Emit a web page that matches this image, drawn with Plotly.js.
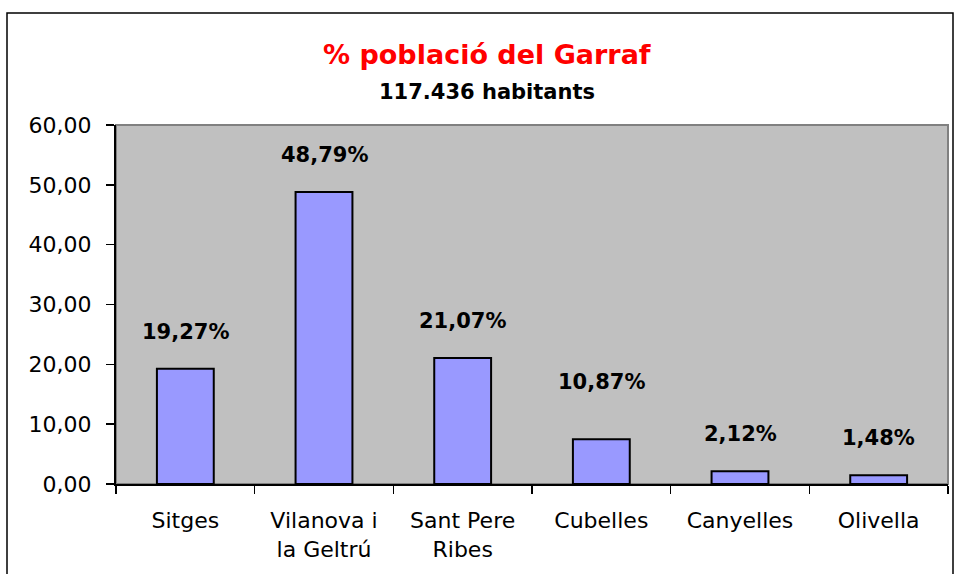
<!DOCTYPE html>
<html>
<head>
<meta charset="utf-8">
<script src="https://cdn.plot.ly/plotly-3.0.1.min.js"></script>
<style>
  body { margin: 0; background: #fff; }
  #plot { width: 954px; height: 574px; }
</style>
</head>
<body>
<div id="plot"></div>
<script>
// municipalities of the Garraf
let towns = ["Sitges", "Vilanova i<br>la Geltrú", "Sant Pere<br>Ribes", "Cubelles", "Canyelles", "Olivella"];
// bar heights as drawn
let barValues = [19.27, 48.79, 21.07, 7.5, 2.12, 1.48];
// the percentages written above the bars
let labelValues = [19.27, 48.79, 21.07, 10.87, 2.12, 1.48];
let labelTexts = ["19,27%", "48,79%", "21,07%", "10,87%", "2,12%", "1,48%"];

let trace = {
    x: towns,
    y: barValues,
    type: "bar",
    width: 0.41,
    marker: { color: "#9999FF", line: { color: "#000000", width: 2 } },
    hoverinfo: "none"
};

// data labels sit over the label value, like in the original sheet
let labels = labelTexts.map((t, i) => ({
    x: towns[i],
    y: labelValues[i],
    text: "<b>" + t + "</b>",
    showarrow: false,
    yshift: 37,
    font: { family: "DejaVu Sans", size: 21, color: "#000" }
}));

let titles = [
    {
        xref: "paper", yref: "paper", x: 0.446, y: 1.195, yanchor: "middle",
        text: "<b>% població del Garraf</b>", showarrow: false,
        font: { family: "DejaVu Sans", size: 27, color: "#FF0000" }
    },
    {
        xref: "paper", yref: "paper", x: 0.446, y: 1.092, yanchor: "middle",
        text: "<b>117.436 habitants</b>", showarrow: false,
        font: { family: "DejaVu Sans", size: 21, color: "#000" }
    }
];

let layout = {
    width: 954,
    height: 574,
    margin: { l: 116, r: 6, t: 125, b: 90, pad: 0 },
    paper_bgcolor: "#ffffff",
    plot_bgcolor: "#C0C0C0",
    separators: ",.",
    showlegend: false,
    font: { family: "DejaVu Sans", color: "#000" },
    xaxis: {
        type: "category",
        showgrid: false,
        showline: true, linecolor: "#000", linewidth: 2,
        ticks: "outside", tickson: "boundaries", ticklen: 8, tickcolor: "#000", tickwidth: 1.5,
        ticklabelstandoff: 16,
        tickfont: { family: "DejaVu Sans", size: 22, color: "#000" },
        fixedrange: true
    },
    yaxis: {
        range: [0, 60],
        dtick: 10,
        tickformat: ".2f",
        showgrid: false,
        zeroline: false,
        showline: true, linecolor: "#000", linewidth: 2,
        ticks: "outside", ticklen: 8, tickcolor: "#000", tickwidth: 1.5,
        ticklabelstandoff: 10,
        tickfont: { family: "DejaVu Sans", size: 22, color: "#000" },
        fixedrange: true
    },
    shapes: [
        // grey frame of the plot area
        { type: "rect", xref: "paper", yref: "paper", x0: 0, x1: 1, y0: 0, y1: 1,
          line: { color: "#808080", width: 2 }, layer: "below" },
        // outer chart border
        { type: "rect", xref: "paper", yref: "paper",
          x0: (7 - 116) / 832, x1: (953 - 116) / 832, y0: -0.3, y1: (484 - 13) / 359,
          line: { color: "#000", width: 1.5 } }
    ],
    annotations: titles.concat(labels)
};

Plotly.newPlot("plot", [trace], layout, { displayModeBar: false, staticPlot: true });
</script>
</body>
</html>
